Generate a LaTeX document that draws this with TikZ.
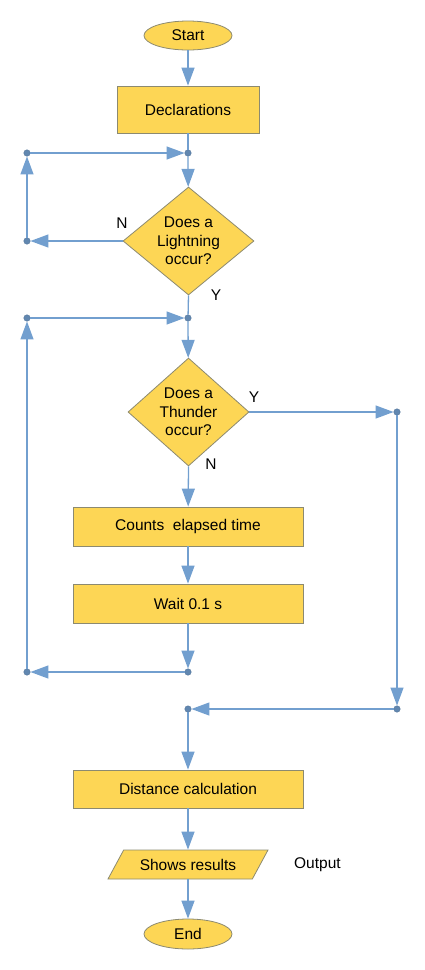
\documentclass[tikz,border=0pt]{standalone}
\usepackage{fontspec}
\setmainfont{Liberation Sans}
\usetikzlibrary{positioning, arrows.meta, shapes.geometric}
\definecolor{boxfill}{HTML}{FDD655}
\definecolor{boxline}{HTML}{8C8A70}
\definecolor{flowblue}{HTML}{729FCF}
\tikzset{
    every node/.style={font=\fontsize{15.5}{18.5}\selectfont},
    yellowbox/.style={draw=boxline, fill=boxfill, line width=0.8pt, align=center},
    yellowcycle/.style={ellipse, draw=boxline, fill=boxfill, line width=0.8pt, minimum width=88pt, minimum height=29pt, inner sep=0pt},
    yellowdiamond/.style={diamond, draw=boxline, fill=boxfill, line width=0.8pt, align=center, inner sep=0pt},
    yellowio/.style={trapezium, trapezium left angle=36, trapezium right angle=144, trapezium stretches body,
        draw=boxline, fill=boxfill, line width=0.8pt, minimum width=160pt, minimum height=29pt, inner sep=0pt},
    jdot/.style={circle, draw=flowblue!75!black, fill=flowblue!85!black, minimum size=6.5pt, inner sep=0pt},
    arrow/.style={-{Triangle[length=18pt, width=13pt]}, line width=1.3pt, draw=flowblue},
    flow/.style={line width=1.3pt, draw=flowblue},
}
\begin{document}
\begin{tikzpicture}[x=1pt, y=1pt]
\useasboundingbox (0,0) rectangle (424,-970);
% main column
\node[yellowcycle] (S) at (188,-35.5) {Start};
\node[yellowbox, minimum width=142pt, minimum height=47pt] (decl) at (188,-109.5) {Declarations};
\node[yellowdiamond, aspect=1.21, minimum width=131pt, minimum height=108pt] (L) at (188.5,-241) {Does a\\Lightning\\occur?};
\node[yellowdiamond, aspect=1.12, minimum width=121pt, minimum height=108pt] (T) at (188.5,-412) {Does a\\Thunder\\occur?};
\node[yellowbox, minimum width=230pt, minimum height=39pt] (cnt) at (188,-526.5) {Counts~ elapsed time};
\node[yellowbox, minimum width=230pt, minimum height=39pt] (wait) at (188,-603.5) {Wait 0.1 s};
\node[yellowbox, minimum width=230pt, minimum height=38pt] (dist) at (188,-789) {Distance calculation};
\node[yellowio] (io) at (188,-864.5) {\makebox[0pt]{Shows results}};
\node[yellowcycle, minimum height=30pt] (E) at (188,-934) {End};
\node[right=30pt of io] (out) {Output};
% junction dots
\node[jdot] (j1) at (188,-153) {};
\node[jdot] (l1) at (27,-153) {};
\node[jdot] (l2) at (27,-241) {};
\node[jdot] (j2) at (188,-318) {};
\node[jdot] (l3) at (27,-318) {};
\node[jdot] (r1) at (397,-412) {};
\node[jdot] (j3) at (188,-672) {};
\node[jdot] (l4) at (27,-672) {};
\node[jdot] (r2) at (397,-709) {};
\node[jdot] (j4) at (188,-709) {};
% branch labels
\node (n1) at (122,-223) {N};
\node (y1) at (216,-295) {Y};
\node (y2) at (254,-397) {Y};
\node (n2) at (211,-464) {N};
% connectors
\draw[arrow] (S) -- (decl);
\draw[flow] (decl) -- (j1);
\draw[arrow] (l1) -- (j1);
\draw[arrow] (j1) -- (L);
\draw[arrow] (L.west) -- (l2);
\draw[arrow] (l2) -- (l1);
\draw[flow] (L.south) -- (j2);
\draw[arrow] (l3) -- (j2);
\draw[arrow] (j2) -- (T);
\draw[arrow] (T.east) -- (r1);
\draw[arrow] (T.south) -- (cnt);
\draw[arrow] (cnt) -- (wait);
\draw[arrow] (wait) -- (j3);
\draw[arrow] (j3) -- (l4);
\draw[arrow] (l4) -- (l3);
\draw[arrow] (r1) -- (r2);
\draw[arrow] (r2) -- (j4);
\draw[arrow] (j4) -- (dist);
\draw[arrow] (dist) -- (io);
\draw[arrow] (io) -- (E);
\end{tikzpicture}
\end{document}
